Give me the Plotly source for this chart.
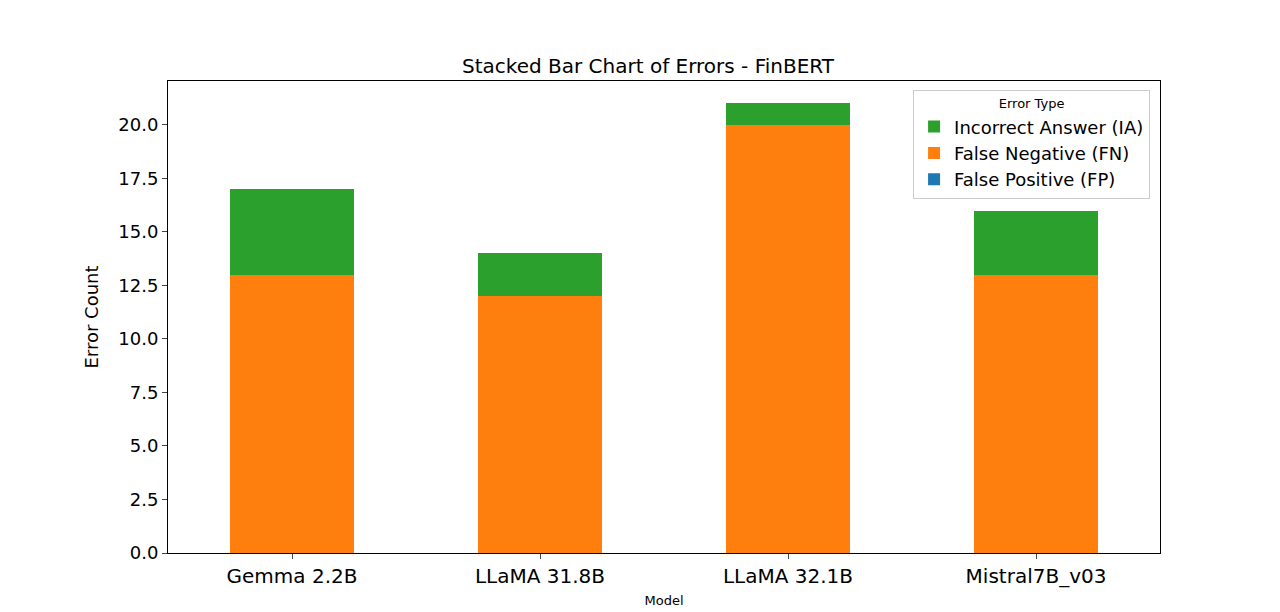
import plotly.graph_objects as go

models = ["Gemma 2.2B", "LLaMA 31.8B", "LLaMA 32.1B", "Mistral7B_v03"]
fp = [0, 0, 0, 0]
fn = [13, 12, 20, 13]
ia = [4, 2, 1, 3]

fig = go.Figure()
for name, vals, col in [("False Positive (FP)", fp, "#1f77b4"),
                        ("False Negative (FN)", fn, "#ff7f0e"),
                        ("Incorrect Answer (IA)", ia, "#2ca02c")]:
    fig.add_bar(x=models, y=vals, name=name, marker_color=col, marker_line_width=0, width=0.5)

fig.update_layout(
    barmode="stack", width=1280, height=612, paper_bgcolor="white", plot_bgcolor="white",
    font=dict(family="DejaVu Sans", color="black"),
    margin=dict(l=160, r=128, t=73, b=67),
    title=dict(text="Stacked Bar Chart of Errors - FinBERT", x=0.5, xanchor="center", y=0.905, yanchor="middle", font=dict(size=20)),
    xaxis=dict(range=[-0.5, 3.5], showline=True, linecolor="black", mirror=True, ticks="outside",
               tickfont=dict(size=20), title=dict(text="Model", font=dict(size=13), standoff=8)),
    yaxis=dict(range=[0, 22.05], showline=True, linecolor="black", mirror=True, ticks="outside",
               tickvals=[0, 2.5, 5, 7.5, 10, 12.5, 15, 17.5, 20],
               ticktext=["0.0", "2.5", "5.0", "7.5", "10.0", "12.5", "15.0", "17.5", "20.0"],
               tickfont=dict(size=18), showgrid=False, zeroline=False,
               title=dict(text="Error Count", font=dict(size=18))),
    legend=dict(x=0.99, y=0.98, xanchor="right", yanchor="top", bordercolor="#cccccc", borderwidth=1,
                bgcolor="white", font=dict(size=18),
                title=dict(text="Error Type", font=dict(size=13), side="top center")),
)
fig.write_html("out.html")
